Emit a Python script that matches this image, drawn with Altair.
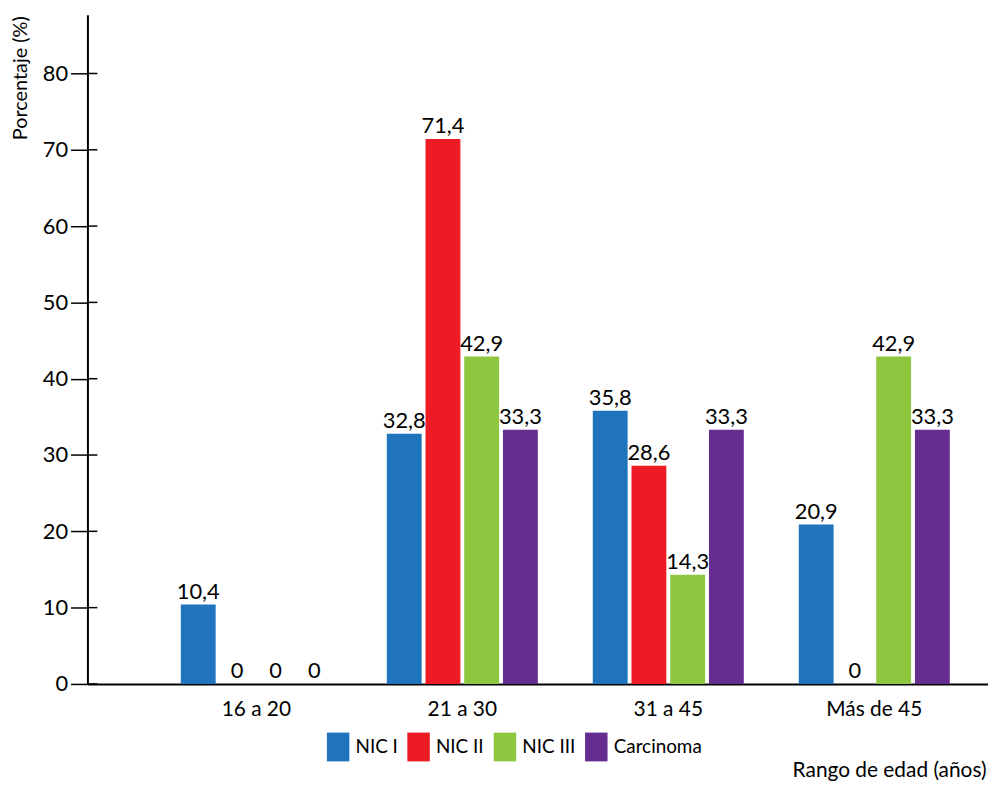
import altair as alt
import pandas as pd

grupos = ["16 a 20", "21 a 30", "31 a 45", "Más de 45"]
series = ["NIC I", "NIC II", "NIC III", "Carcinoma"]
nic1 = [10.4, 32.8, 35.8, 20.9]
nic2 = [0, 71.4, 28.6, 0]
nic3 = [0, 42.9, 14.3, 42.9]
carcinoma = [0, 33.3, 33.3, 33.3]
colores = ["#1F74BD", "#ED1C24", "#8DC63F", "#662D91"]
y_ticks = [0, 10, 20, 30, 40, 50, 60, 70, 80]

FONT = "Lato"

rows = []
for s, vals in zip(series, [nic1, nic2, nic3, carcinoma]):
    for g, v in zip(grupos, vals):
        rows.append({"grupo": g, "serie": s, "valor": v,
                     "etiqueta": f"{v:g}".replace(".", ",")})
df = pd.DataFrame(rows)
df_ticks = pd.DataFrame({"valor": y_ticks})

x_enc = alt.X("grupo:N", sort=grupos,
              scale=alt.Scale(paddingInner=0.248, paddingOuter=0.31, align=0.716),
              axis=alt.Axis(title="Rango de edad (años)", labelAngle=0,
                            labelFont=FONT, labelFontSize=21, labelColor="black",
                            labelPadding=15, ticks=False, tickSize=0,
                            domainColor="black", domainWidth=2,
                            titleFont=FONT, titleFontSize=21, titleFontWeight="normal",
                            titleColor="black", titleAlign="right",
                            titleBaseline="alphabetic", titleX=905, titleY=93))
xo_enc = alt.XOffset("serie:N", sort=series,
                     scale=alt.Scale(paddingInner=0.1, paddingOuter=0.05))
y_axis = alt.Axis(title="Porcentaje (%)", values=y_ticks, grid=False,
                  tickSize=17, tickColor="black", tickWidth=1.5,
                  domainColor="black", domainWidth=2,
                  labelFont=FONT, labelFontSize=22, labelColor="black", labelPadding=3,
                  titleFont=FONT, titleFontSize=20, titleFontWeight="normal",
                  titleColor="black", titleAngle=270, titleAlign="right",
                  titleBaseline="alphabetic", titleX=-61, titleY=1)
y_scale = alt.Scale(domain=[0, 87.7], nice=False)

bars = alt.Chart(df).mark_bar().encode(
    x=x_enc,
    xOffset=xo_enc,
    y=alt.Y("valor:Q", scale=y_scale, axis=y_axis),
    color=alt.Color("serie:N", sort=series,
                    scale=alt.Scale(domain=series, range=colores),
                    legend=alt.Legend(title=None, orient="none", direction="horizontal",
                                      legendX=238, legendY=723,
                                      symbolType="M-0.78,-1H0.78V1H-0.78Z",
                                      symbolSize=841, symbolStrokeWidth=0,
                                      symbolOpacity=1,
                                      labelFont=FONT, labelFontSize=19,
                                      labelColor="black", labelOffset=3,
                                      columnPadding=6, padding=0)),
)

labels = alt.Chart(df).mark_text(baseline="alphabetic", dy=-6, font=FONT,
                                 fontSize=22, color="black").encode(
    x=alt.X("grupo:N", sort=grupos),
    xOffset=alt.XOffset("serie:N", sort=series),
    y=alt.Y("valor:Q"),
    text="etiqueta:N",
)

inner_ticks = alt.Chart(df_ticks).mark_rule(color="black", strokeWidth=1.5).encode(
    y=alt.Y("valor:Q"),
    x=alt.value(0),
    x2=alt.value(10),
)

chart = alt.layer(bars, labels, inner_ticks).properties(
    width=907, height=674,
    autosize=alt.AutoSizeParams(type="none"),
    padding={"left": 80, "top": 4, "right": 0, "bottom": 98},
).configure(background="white").configure_view(stroke=None)

chart.save("out.html", embed_options={"renderer": "svg", "actions": False})
